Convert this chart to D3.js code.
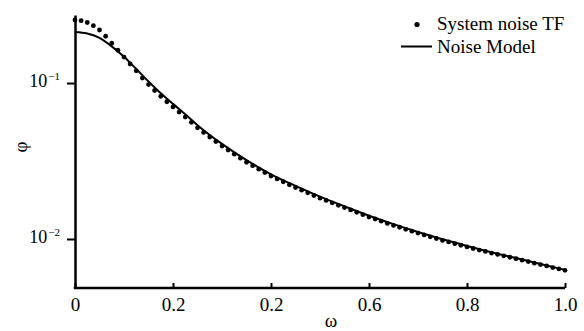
<!DOCTYPE html>
<html>
<head>
<meta charset="utf-8">
<script src="https://cdn.jsdelivr.net/npm/d3@7"></script>
<style>
  body { margin: 0; background: #fff; }
</style>
</head>
<body>
<svg id="chart" width="584" height="331" font-family="Liberation Serif, Times New Roman, serif"></svg>
<script>
// measured points (system noise transfer function)
const omegaDots = [0, 0.0125, 0.025, 0.0375, 0.05, 0.0625, 0.075, 0.0875, 0.1, 0.1125,
  0.125, 0.1375, 0.15, 0.1625, 0.175, 0.1875, 0.2, 0.2125, 0.225, 0.2375,
  0.25, 0.2625, 0.275, 0.2875, 0.3, 0.3125, 0.325, 0.3375, 0.35, 0.3625,
  0.375, 0.3875, 0.4, 0.4125, 0.425, 0.4375, 0.45, 0.4625, 0.475, 0.4875,
  0.5, 0.5125, 0.525, 0.5375, 0.55, 0.5625, 0.575, 0.5875, 0.6, 0.6125,
  0.625, 0.6375, 0.65, 0.6625, 0.675, 0.6875, 0.7, 0.7125, 0.725, 0.7375,
  0.75, 0.7625, 0.775, 0.7875, 0.8, 0.8125, 0.825, 0.8375, 0.85, 0.8625,
  0.875, 0.8875, 0.9, 0.9125, 0.925, 0.9375, 0.95, 0.9625, 0.975, 0.9875, 1.0];
const phiDots = [0.2535, 0.2512, 0.2443, 0.2333, 0.2188, 0.1995, 0.1799, 0.1622, 0.1466, 0.1324,
  0.1197, 0.1076, 0.09772, 0.08954, 0.08222, 0.07586, 0.07031, 0.06516, 0.06053, 0.05598,
  0.05164, 0.04819, 0.04508, 0.04217, 0.03945, 0.03715, 0.03499, 0.03296, 0.03105, 0.02951,
  0.02805, 0.02667, 0.02535, 0.02427, 0.02328, 0.02228, 0.02138, 0.02056, 0.01977, 0.01901,
  0.01828, 0.01766, 0.01706, 0.01644, 0.01589, 0.01535, 0.01483, 0.01432, 0.01384, 0.01343,
  0.01300, 0.01259, 0.01222, 0.01189, 0.01153, 0.01122, 0.01091, 0.01062, 0.01033, 0.01007,
  0.009795, 0.009572, 0.009333, 0.009120, 0.008892, 0.008690, 0.008492, 0.008318, 0.008128, 0.007962,
  0.007798, 0.007638, 0.007482, 0.007311, 0.007161, 0.006998, 0.006855, 0.006714, 0.006561, 0.006427, 0.006295];

// noise model curve
const omegaModel = [0, 0.025, 0.05, 0.075, 0.1, 0.125, 0.15, 0.175, 0.2, 0.225,
  0.25, 0.3, 0.35, 0.4, 0.45, 0.5, 0.55, 0.6, 0.65, 0.7, 0.75, 0.8, 0.85, 0.9, 0.95, 1.0];
const phiModel = [0.2123, 0.2075, 0.1950, 0.1718, 0.1472, 0.1230, 0.1023, 0.0861, 0.0735, 0.0631,
  0.0537, 0.0407, 0.0320, 0.0260, 0.0219, 0.0187, 0.0162, 0.0141, 0.01245, 0.01109,
  0.00995, 0.00902, 0.00822, 0.00755, 0.00692, 0.00634];

// axis ticks (labels as printed in the figure)
const xTickValues = [0, 0.2, 0.4, 0.6, 0.8, 1.0];
const xTickLabels = ["0", "0.2", "0.2", "0.6", "0.8", "1.0"];
const yTickValues = [0.1, 0.01];
const yTickExponents = ["\u22121", "\u22122"];

const legendLabels = ["System noise TF", "Noise Model"];

const FONT = "Liberation Serif, Times New Roman, serif";
const svg = d3.select("#chart");

const x = d3.scaleLinear().domain([0, 1]).range([75, 565]);
const y = d3.scaleLog().domain([0.00485, 0.273]).range([288, 15]);

// x axis, ticks pointing up into the plot
const xAxis = d3.axisBottom(x)
  .tickValues(xTickValues)
  .tickSize(-5)
  .tickSizeOuter(0)
  .tickFormat((d, i) => xTickLabels[i]);
const gx = svg.append("g").attr("transform", "translate(0,288)").call(xAxis)
  .attr("font-family", FONT);
gx.select(".domain").attr("stroke", "#000").attr("stroke-width", 2.5).attr("d", "M" + (x(0) - 1.2) + ",0H" + x(1));
gx.selectAll(".tick line").attr("stroke", "#000").attr("stroke-width", 2);
gx.selectAll(".tick text").attr("y", 10).attr("dy", "0.71em").attr("font-size", 19).attr("fill", "#000");

// y axis, log scale
const yAxis = d3.axisLeft(y)
  .tickValues(yTickValues)
  .tickSize(8)
  .tickSizeOuter(0)
  .tickFormat("");
const gy = svg.append("g").attr("transform", "translate(75,0)").call(yAxis)
  .attr("font-family", FONT);
gy.select(".domain").attr("stroke", "#000").attr("stroke-width", 2.5);
gy.selectAll(".tick line").attr("stroke", "#000").attr("stroke-width", 2);
gy.selectAll(".tick").each(function (d, i) {
  const t = d3.select(this).append("text")
    .attr("x", -15)
    .attr("y", 0)
    .attr("dy", "0.35em")
    .attr("fill", "#000")
    .attr("text-anchor", "end");
  t.append("tspan").attr("font-size", 18).text("10");
  t.append("tspan").attr("dx", 1).attr("dy", "-0.6em").attr("font-size", 11).text(yTickExponents[i]);
});

// axis titles
svg.append("text")
  .attr("x", 331).attr("y", 327)
  .attr("text-anchor", "middle")
  .attr("font-size", 19)
  .text("\u03c9");
svg.append("text")
  .attr("transform", "translate(27,147) rotate(-90)")
  .attr("text-anchor", "middle")
  .attr("font-size", 19)
  .text("\u03c6");

// model line
const line = d3.line()
  .x(d => x(d[0]))
  .y(d => y(d[1]))
  .curve(d3.curveMonotoneX);
svg.append("path")
  .datum(d3.zip(omegaModel, phiModel))
  .attr("fill", "none")
  .attr("stroke", "#000")
  .attr("stroke-width", 2)
  .attr("d", line);

// measured dots
svg.append("g").selectAll("circle")
  .data(d3.zip(omegaDots, phiDots))
  .join("circle")
  .attr("cx", d => x(d[0]))
  .attr("cy", d => y(d[1]))
  .attr("r", 2.4)
  .attr("fill", "#000");

// legend
const legend = svg.append("g");
legend.append("circle").attr("cx", 417).attr("cy", 24.5).attr("r", 2.6).attr("fill", "#000");
legend.append("line").attr("x1", 401).attr("x2", 432).attr("y1", 46.5).attr("y2", 46.5)
  .attr("stroke", "#000").attr("stroke-width", 2);
legend.selectAll("text")
  .data(legendLabels)
  .join("text")
  .attr("x", 437)
  .attr("y", (d, i) => 30 + i * 22.5)
  .attr("font-size", 19)
  .text(d => d);
</script>
</body>
</html>
